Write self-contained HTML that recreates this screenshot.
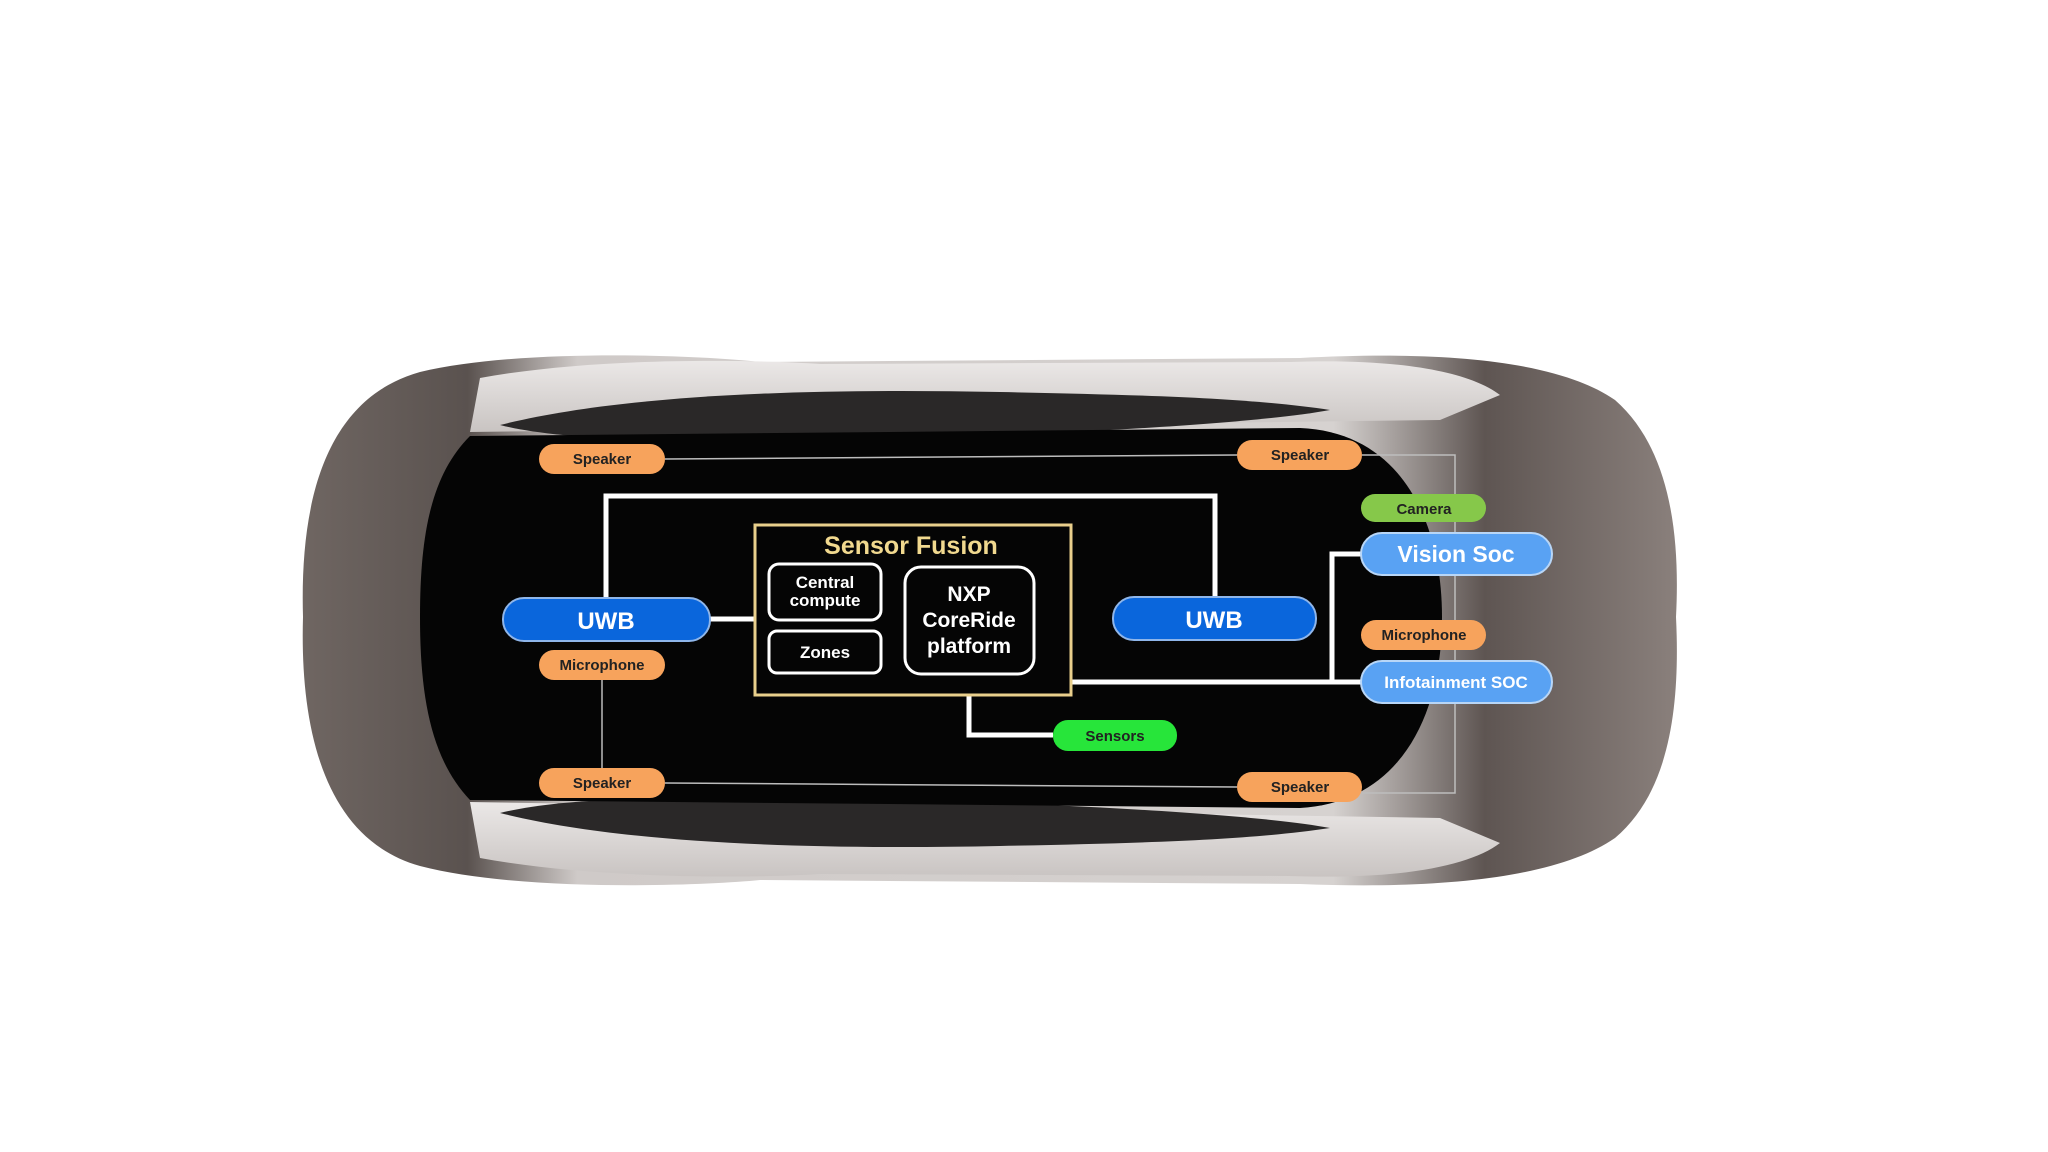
<!DOCTYPE html>
<html><head><meta charset="utf-8"><style>
html,body{margin:0;padding:0;background:#fff}
svg{display:block}
text{font-family:"Liberation Sans",sans-serif;font-weight:bold}
</style></head><body>
<svg width="2048" height="1152" viewBox="0 0 2048 1152" xmlns="http://www.w3.org/2000/svg">
<defs>
<linearGradient id="bodyg" x1="0" y1="0" x2="1" y2="0">
<stop offset="0" stop-color="#6f6662"/><stop offset="0.12" stop-color="#5a524f"/><stop offset="0.2" stop-color="#cfcac8"/><stop offset="0.75" stop-color="#d6d2d0"/><stop offset="0.86" stop-color="#5e5552"/><stop offset="1" stop-color="#8a807c"/>
</linearGradient>
<linearGradient id="sideg" x1="0" y1="0" x2="0" y2="1">
<stop offset="0" stop-color="#ebe8e7"/><stop offset="1" stop-color="#c9c4c2"/>
</linearGradient>
</defs>
<!-- car body -->
<path d="M420,372 C520,348 700,355 760,362 L1300,358 C1450,350 1560,362 1615,400 C1672,450 1680,540 1676,617 C1680,700 1672,790 1615,838 C1560,876 1450,890 1300,884 L760,880 C700,886 520,892 420,866 C320,838 300,720 303,617 C300,512 320,400 420,372 Z" fill="url(#bodyg)"/>
<path d="M480,378 C600,356 760,360 820,364 L1290,362 C1400,358 1470,372 1500,395 L1440,420 L470,432 Z" fill="url(#sideg)"/>
<path d="M480,858 C600,880 760,878 820,874 L1290,876 C1400,880 1470,866 1500,843 L1440,818 L470,802 Z" fill="url(#sideg)"/>
<!-- side windows -->
<path d="M500,425 C620,395 800,388 1000,392 C1150,395 1250,398 1330,410 C1250,425 1000,440 700,440 C600,440 540,435 500,425 Z" fill="#2a2828"/>
<path d="M500,813 C620,843 800,850 1000,846 C1150,843 1250,840 1330,828 C1250,813 1000,798 700,798 C600,798 540,803 500,813 Z" fill="#2a2828"/>
<!-- cabin -->
<path d="M470,436 L1300,428 C1400,432 1442,520 1442,617 C1442,716 1400,802 1300,808 L470,800 C432,760 420,700 420,617 C420,532 432,474 470,436 Z" fill="#050505"/>
<!-- thin lines -->
<g stroke="#bdbdbd" stroke-width="1.5" fill="none">
<polyline points="665,459 1237,455"/>
<polyline points="1362,455 1455,455 1455,793 1362,793"/>
<polyline points="665,783 1237,787"/>
<polyline points="602,680 602,768"/>
</g>
<!-- thick white lines -->
<g stroke="#fff" stroke-width="5" fill="none">
<polyline points="606,598 606,496 1215,496 1215,597"/>
<polyline points="710,619 754,619"/>
<polyline points="1034,614 1049,614 1049,682 1361,682"/>
<polyline points="1332,682 1332,554 1361,554"/>
<polyline points="969,674 969,735 1053,735"/>
</g>
<!-- sensor fusion -->
<rect x="755" y="525" width="316" height="170" fill="#050505" stroke="#e9cf8c" stroke-width="3"/>
<text x="911" y="554" font-size="25" fill="#f1d98f" text-anchor="middle">Sensor Fusion</text>
<rect x="769" y="564" width="112" height="56" rx="10" fill="#050505" stroke="#fff" stroke-width="3"/>
<text x="825" y="588" font-size="17" fill="#fff" text-anchor="middle">Central</text>
<text x="825" y="606" font-size="17" fill="#fff" text-anchor="middle">compute</text>
<rect x="769" y="631" width="112" height="42" rx="8" fill="#050505" stroke="#fff" stroke-width="3"/>
<text x="825" y="658" font-size="17" fill="#fff" text-anchor="middle">Zones</text>
<rect x="905" y="567" width="129" height="107" rx="16" fill="#050505" stroke="#fff" stroke-width="3"/>
<text x="969" y="601" font-size="21" fill="#fff" text-anchor="middle">NXP</text>
<text x="969" y="627" font-size="21" fill="#fff" text-anchor="middle">CoreRide</text>
<text x="969" y="653" font-size="21" fill="#fff" text-anchor="middle">platform</text>
<!-- UWB -->
<rect x="503" y="598" width="207" height="43" rx="21" fill="#0a66dc" stroke="#8fb6ea" stroke-width="2"/>
<text x="606" y="629" font-size="24" fill="#fff" text-anchor="middle">UWB</text>
<rect x="1113" y="597" width="203" height="43" rx="21" fill="#0a66dc" stroke="#8fb6ea" stroke-width="2"/>
<text x="1214" y="628" font-size="24" fill="#fff" text-anchor="middle">UWB</text>
<!-- orange -->
<g fill="#f7a35c">
<rect x="539" y="444" width="126" height="30" rx="15"/>
<rect x="1237" y="440" width="125" height="30" rx="15"/>
<rect x="539" y="768" width="126" height="30" rx="15"/>
<rect x="1237" y="772" width="125" height="30" rx="15"/>
<rect x="539" y="650" width="126" height="30" rx="15"/>
<rect x="1361" y="620" width="125" height="30" rx="15"/>
</g>
<g font-size="15" fill="#222" text-anchor="middle">
<text x="602" y="464">Speaker</text>
<text x="1300" y="460">Speaker</text>
<text x="602" y="788">Speaker</text>
<text x="1300" y="792">Speaker</text>
<text x="602" y="670">Microphone</text>
<text x="1424" y="640">Microphone</text>
</g>
<rect x="1361" y="494" width="125" height="28" rx="14" fill="#86c84a"/>
<text x="1424" y="514" font-size="15" fill="#222" text-anchor="middle">Camera</text>
<rect x="1053" y="720" width="124" height="31" rx="15" fill="#27e53a"/>
<text x="1115" y="741" font-size="15" fill="#222" text-anchor="middle">Sensors</text>
<rect x="1361" y="533" width="191" height="42" rx="21" fill="#59a2f3" stroke="#b8d6f7" stroke-width="2"/>
<text x="1456" y="562" font-size="23" fill="#fff" text-anchor="middle">Vision Soc</text>
<rect x="1361" y="661" width="191" height="42" rx="21" fill="#59a2f3" stroke="#b8d6f7" stroke-width="2"/>
<text x="1456" y="688" font-size="17" fill="#fff" text-anchor="middle">Infotainment SOC</text>
</svg>
</body></html>
